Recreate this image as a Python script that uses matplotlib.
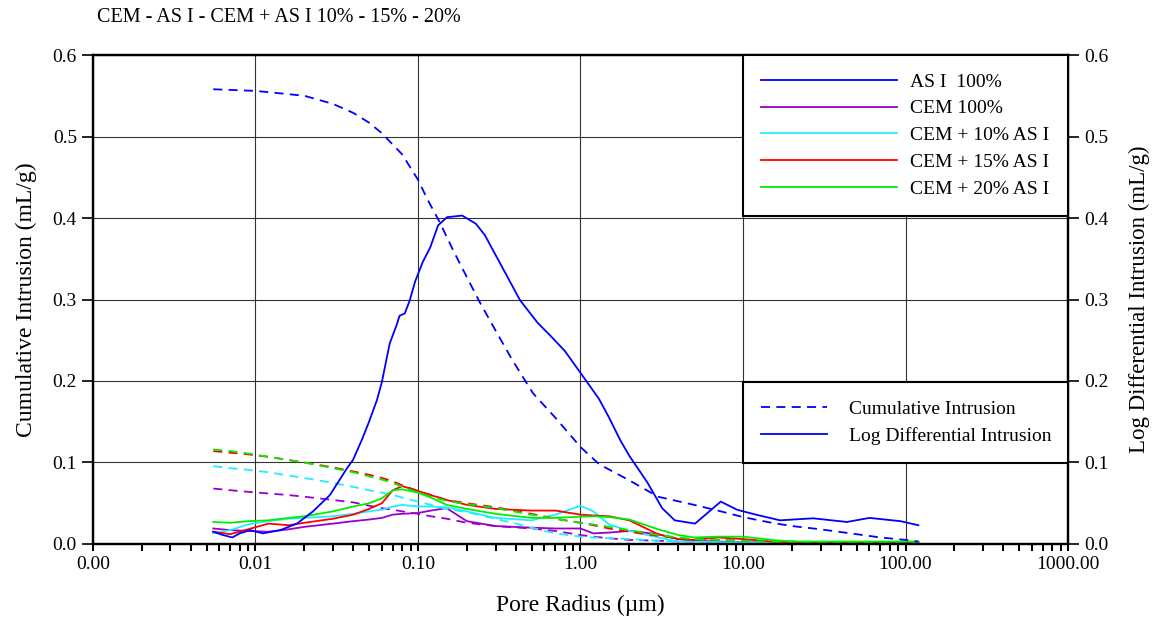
import numpy as np
import matplotlib
matplotlib.use('Agg')
import matplotlib.pyplot as plt
from matplotlib.ticker import LogLocator, FuncFormatter, MultipleLocator, NullFormatter
from matplotlib.lines import Line2D

plt.rcParams['font.family'] = ['Liberation Serif', 'DejaVu Serif']

# AS I 100% curves
asi_x_log = [0.0055, 0.0063, 0.0072, 0.008, 0.0093, 0.0111, 0.0142, 0.018, 0.0226, 0.0287,
             0.0366, 0.0398, 0.0452, 0.05, 0.056, 0.06, 0.067, 0.074, 0.077, 0.083, 0.089,
             0.096, 0.107, 0.119, 0.133, 0.151, 0.187, 0.227, 0.258, 0.425, 0.547, 0.65,
             0.8, 1.0, 1.3, 1.5, 1.75, 2.0, 2.57, 3.18, 3.8, 5.07, 7.3, 9.2, 12, 16.9, 27,
             43.6, 60, 93, 120]
asi_log = [0.015, 0.011, 0.008, 0.013, 0.017, 0.013, 0.017, 0.025, 0.040, 0.060, 0.093, 0.103,
           0.128, 0.15, 0.177, 0.199, 0.246, 0.269, 0.280, 0.283, 0.299, 0.322, 0.346, 0.364,
           0.391, 0.401, 0.403, 0.393, 0.379, 0.299, 0.271, 0.256, 0.237, 0.21, 0.178, 0.155,
           0.128, 0.108, 0.076, 0.044, 0.029, 0.025, 0.052, 0.042, 0.036, 0.029, 0.0315,
           0.027, 0.032, 0.028, 0.023]
asi_x_cum = [0.0055, 0.01, 0.02, 0.03, 0.04, 0.05, 0.06, 0.08, 0.1, 0.115, 0.136, 0.164, 0.19,
             0.241, 0.306, 0.38, 0.51, 0.7, 1.0, 1.3, 2, 3, 5, 7, 10, 15, 20, 30, 50, 70, 100, 120]
asi_cum = [0.558, 0.556, 0.550, 0.540, 0.529, 0.517, 0.504, 0.478, 0.447, 0.422, 0.395, 0.361,
           0.336, 0.296, 0.259, 0.226, 0.185, 0.155, 0.119, 0.098, 0.078, 0.058, 0.048, 0.041,
           0.033, 0.026, 0.022, 0.018, 0.012, 0.008, 0.005, 0.003]

# shared radius grid for the cement mixes
radius = [0.0055, 0.007, 0.009, 0.012, 0.016, 0.02, 0.03, 0.04, 0.05, 0.06, 0.07, 0.08, 0.1,
          0.12, 0.15, 0.2, 0.3, 0.5, 0.7, 1.0, 1.2, 1.5, 2, 3, 4, 5, 7, 10, 15, 20, 30, 50, 80, 120]

cem_cum = [0.068, 0.066, 0.064, 0.062, 0.060, 0.058, 0.054, 0.051, 0.047, 0.044, 0.042, 0.040,
           0.037, 0.034, 0.031, 0.026, 0.022, 0.019, 0.016, 0.011, 0.009, 0.007, 0.005, 0.004,
           0.003, 0.003, 0.002, 0.002, 0.002, 0.002, 0.001, 0.001, 0.001, 0.001]
cem_log = [0.019, 0.017, 0.016, 0.015, 0.018, 0.021, 0.025, 0.028, 0.030, 0.032, 0.036, 0.037,
           0.038, 0.041, 0.044, 0.028, 0.022, 0.020, 0.019, 0.019, 0.013, 0.014, 0.016, 0.012,
           0.006, 0.004, 0.003, 0.002, 0.002, 0.002, 0.002, 0.002, 0.002, 0.002]

c10_cum = [0.0955, 0.093, 0.091, 0.088, 0.084, 0.081, 0.075, 0.070, 0.066, 0.063, 0.060, 0.057,
           0.052, 0.048, 0.043, 0.039, 0.031, 0.020, 0.013, 0.009, 0.008, 0.007, 0.006, 0.004,
           0.003, 0.003, 0.002, 0.002, 0.002, 0.001, 0.001, 0.001, 0.001, 0.001]
c10_log = [0.013, 0.017, 0.024, 0.028, 0.031, 0.032, 0.034, 0.037, 0.040, 0.042, 0.046, 0.048,
           0.046, 0.046, 0.045, 0.040, 0.032, 0.029, 0.036, 0.047, 0.040, 0.024, 0.016, 0.008,
           0.003, 0.003, 0.002, 0.002, 0.002, 0.002, 0.002, 0.002, 0.002, 0.002]

c15_cum = [0.114, 0.112, 0.110, 0.107, 0.103, 0.100, 0.094, 0.089, 0.085, 0.081, 0.077, 0.072,
           0.065, 0.060, 0.054, 0.050, 0.045, 0.037, 0.031, 0.026, 0.023, 0.019, 0.015, 0.010,
           0.007, 0.006, 0.005, 0.004, 0.003, 0.003, 0.002, 0.002, 0.001, 0.001]
c15_log = [0.015, 0.012, 0.018, 0.025, 0.023, 0.026, 0.031, 0.036, 0.043, 0.050, 0.066, 0.071,
           0.065, 0.060, 0.054, 0.048, 0.043, 0.041, 0.041, 0.036, 0.035, 0.034, 0.029, 0.012,
           0.006, 0.005, 0.008, 0.006, 0.003, 0.002, 0.002, 0.002, 0.002, 0.002]

c20_cum = [0.116, 0.114, 0.111, 0.107, 0.103, 0.100, 0.093, 0.088, 0.083, 0.079, 0.075, 0.070,
           0.063, 0.058, 0.053, 0.049, 0.044, 0.036, 0.031, 0.026, 0.024, 0.021, 0.017, 0.011,
           0.008, 0.006, 0.005, 0.004, 0.003, 0.003, 0.002, 0.002, 0.001, 0.001]
c20_log = [0.027, 0.026, 0.028, 0.029, 0.032, 0.034, 0.040, 0.046, 0.050, 0.056, 0.066, 0.067,
           0.063, 0.057, 0.048, 0.043, 0.037, 0.032, 0.032, 0.0335, 0.034, 0.033, 0.030, 0.018,
           0.011, 0.008, 0.009, 0.009, 0.005, 0.003, 0.003, 0.003, 0.003, 0.003]

labels = ['AS I  100%', 'CEM 100%', 'CEM + 10% AS I', 'CEM + 15% AS I', 'CEM + 20% AS I']
colors = ['#0000ff', '#9900cc', '#22eeff', '#ff0000', '#00ee00']
x_ticks = [0.001, 0.01, 0.1, 1, 10, 100, 1000]

fig = plt.figure(figsize=(11.56, 6.19), dpi=100)
ax = fig.add_axes([0.0804, 0.1212, 0.8435, 0.7899])

dash = (0, (5, 3.5))
lw = 1.3
series = [
    (asi_x_cum, asi_cum, asi_x_log, asi_log),
    (radius, cem_cum, radius, cem_log),
    (radius, c10_cum, radius, c10_log),
    (radius, c15_cum, radius, c15_log),
    (radius, c20_cum, radius, c20_log),
]
# draw mixes first, AS I on top
for i in [1, 2, 3, 4, 0]:
    xc, yc, xl, yl = series[i]
    ax.plot(xc, yc, color=colors[i], lw=lw, linestyle=dash)
    ax.plot(xl, yl, color=colors[i], lw=lw)

ax.set_xscale('log')
ax.set_xlim(0.001, 1000)
ax.set_ylim(0, 0.6)
ax.xaxis.set_minor_locator(LogLocator(base=10, subs=np.arange(2, 10), numticks=12))
ax.xaxis.set_minor_formatter(NullFormatter())
ax.set_xticks(x_ticks)
ax.xaxis.set_major_formatter(FuncFormatter(lambda v, p: '%.2f' % v))
ax.yaxis.set_major_locator(MultipleLocator(0.1))
ax.yaxis.set_major_formatter(FuncFormatter(lambda v, p: '%.1f' % v))
ax.grid(True, which='major', color='#333333', lw=0.8)
ax.set_axisbelow(True)
ax.tick_params(axis='x', which='both', direction='out', length=5, width=1.5, labelsize=14)
ax.tick_params(axis='y', direction='out', length=8, width=1.2, labelsize=14)
for s in ax.spines.values():
    s.set_linewidth(1.6)

ax2 = ax.twinx()
ax2.set_ylim(0, 0.6)
ax2.yaxis.set_major_locator(MultipleLocator(0.1))
ax2.yaxis.set_major_formatter(FuncFormatter(lambda v, p: '%.1f' % v))
ax2.tick_params(axis='y', direction='out', length=8, width=1.2, labelsize=14)
for s in ax2.spines.values():
    s.set_linewidth(1.6)

ax.set_xlabel('Pore Radius (µm)', fontsize=17, labelpad=16)
ax.set_ylabel('Cumulative Intrusion (mL/g)', fontsize=17, labelpad=11)
ax2.set_ylabel('Log Differential Intrusion (mL/g)', fontsize=16.5, labelpad=15)
fig.text(0.0839, 0.971, 'CEM - AS I - CEM + AS I 10% - 15% - 20%', fontsize=14.5, va='center')

handles = [Line2D([], [], color=c, lw=lw) for c in colors]
leg1 = ax2.legend(handles, labels, loc='upper left', bbox_to_anchor=(0.6667, 0.667, 0.3333, 0.333),
                  mode='expand', borderaxespad=0, fancybox=False, edgecolor='black',
                  fontsize=14, handlelength=7.0, handletextpad=0.67, labelspacing=0.47,
                  borderpad=0.93, framealpha=1)
leg1.get_frame().set_linewidth(1.5)
ax2.add_artist(leg1)

h2 = [Line2D([], [], color='#0000ff', lw=lw, linestyle=dash), Line2D([], [], color='#0000ff', lw=lw)]
leg2 = ax2.legend(h2, ['Cumulative Intrusion', 'Log Differential Intrusion'], loc='upper left',
                  bbox_to_anchor=(0.6667, 0.167, 0.3333, 0.164), mode='expand', borderaxespad=0,
                  fancybox=False, edgecolor='black', fontsize=14, handlelength=3.4,
                  handletextpad=1.13, labelspacing=0.47, borderpad=0.93, framealpha=1)
leg2.get_frame().set_linewidth(1.5)

fig.savefig('out.png', dpi=100)
